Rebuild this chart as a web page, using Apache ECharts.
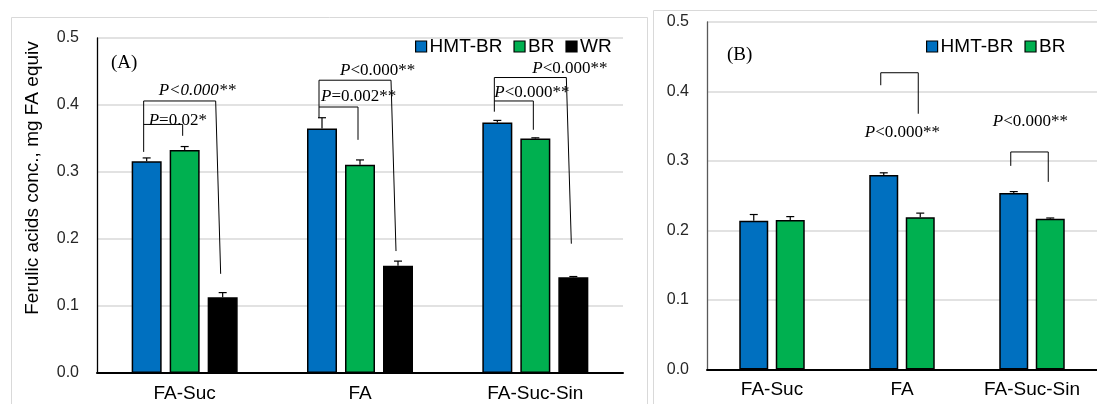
<!DOCTYPE html>
<html><head><meta charset="utf-8">
<script src="https://cdn.jsdelivr.net/npm/echarts@6/dist/echarts.min.js"></script>
<style>html,body{margin:0;padding:0;background:#fff}#c{width:1097px;height:404px}</style>
</head><body><div id="c"></div>
<script>
// ---------- data ----------
const categories = ['FA-Suc', 'FA', 'FA-Suc-Sin'];
const seriesNamesA = ['HMT-BR', 'BR', 'WR'];
const seriesNamesB = ['HMT-BR', 'BR'];
const hmtA = [0.316, 0.365, 0.374];
const hmtAErr = [0.005, 0.016, 0.003];
const brA = [0.333, 0.311, 0.350];
const brAErr = [0.005, 0.007, 0.001];
const wrA = [0.113, 0.160, 0.143];
const wrAErr = [0.007, 0.007, 0.001];
const hmtB = [0.214, 0.280, 0.254];
const hmtBErr = [0.009, 0.003, 0.002];
const brB = [0.215, 0.219, 0.217];
const brBErr = [0.005, 0.006, 0.001];
const yMin = 0, yMax = 0.5, yStep = 0.1;
// significance brackets: [category, fromSeries, toSeries, bracketLevel, leftLegEnd, rightLegEnd, label, labelLevel]
const sigA = [
  [0, 0, 2, 0.406, 0.330, 0.148, '{i|P<0.000**}', 0.422],
  [0, 0, 1, 0.371, 0.371, 0.354, '{i|P}{r|=0.02*}', 0.377],
  [1, 0, 2, 0.437, 0.381, 0.182, '{i|P}{r|<0.000**}', 0.452],
  [1, 0, 1, 0.397, 0.397, 0.348, '{i|P}{r|=0.002**}', 0.412],
  [2, 0, 2, 0.441, 0.390, 0.193, '{i|P}{r|<0.000**}', 0.454],
  [2, 0, 1, 0.406, 0.406, 0.363, '{i|P}{r|<0.000**}', 0.418]
];
const sigB = [
  [1, 0, 1, 0.427, 0.409, 0.368, '{i|P}{r|<0.000**}', 0.341],
  [2, 0, 1, 0.313, 0.293, 0.270, '{i|P}{r|<0.000**}', 0.357]
];
// label horizontal shift (px) relative to bracket left leg
const sigAShift = [15, 5, 21, 2, 38, 0];
const sigBShift = [-16, -18];

// ---------- styles ----------
const BLUE = '#0070C0', GREEN = '#00B050', BLACK = '#000000';
const colorsA = [BLUE, GREEN, BLACK];
const colorsB = [BLUE, GREEN];
const SANS = '"Liberation Sans", Arial, sans-serif';
const SERIF = '"Liberation Serif", "Times New Roman", serif';
const barWA = 30, gapA = 8, barWB = 29, gapB = 7.5;

function offsets(n, w, g) {
  const out = [];
  for (let i = 0; i < n; i++) out.push((i - (n - 1) / 2) * (w + g));
  return out;
}
const offA = offsets(3, barWA, gapA);
const offB = offsets(2, barWB, gapB);

function errRender(offset) {
  return function (params, api) {
    const c = api.value(0), v = api.value(1), e = api.value(2);
    const base = api.coord([c, v]);
    const top = api.coord([c, v + e]);
    const x = base[0] + offset;
    return {
      type: 'group', children: [
        { type: 'line', shape: { x1: x, y1: base[1], x2: x, y2: top[1] }, style: { stroke: '#000', lineWidth: 1.2 } },
        { type: 'line', shape: { x1: x - 4, y1: top[1], x2: x + 4, y2: top[1] }, style: { stroke: '#000', lineWidth: 1.2 } }
      ]
    };
  };
}

function sigRender(sig, offs, shift) {
  return function (params, api) {
    const s = sig[params.dataIndex];
    const cx = api.coord([s[0], 0])[0];
    const xl = cx + offs[s[1]] - 3;
    const far = (s[2] - s[1]) > 1;
    const xrTop = cx + offs[s[2]] - (far ? 7 : 2);
    const xrBot = cx + offs[s[2]] - 2;
    const yTop = api.coord([s[0], s[3]])[1];
    const yL = api.coord([s[0], s[4]])[1];
    const yR = api.coord([s[0], s[5]])[1];
    const yT = api.coord([s[0], s[7]])[1];
    return {
      type: 'group', children: [
        { type: 'polyline', shape: { points: [[xl, yL], [xl, yTop], [xrTop, yTop], [xrBot, yR]] },
          style: { stroke: '#000', lineWidth: 1, fill: null } },
        { type: 'text', x: xl + shift[params.dataIndex], y: yT,
          style: { text: s[6], align: 'left', verticalAlign: 'middle', fill: '#000',
            font: '17px ' + SERIF,
            rich: { i: { fontStyle: 'italic', fontSize: 17, fontFamily: SERIF, fill: '#000' },
                    r: { fontSize: 17, fontFamily: SERIF, fill: '#000' } } } }
      ]
    };
  };
}

const valAxis = (gi, lineColor) => ({
  type: 'value', gridIndex: gi, min: yMin, max: yMax, interval: yStep,
  axisLine: { show: true, lineStyle: { color: lineColor, width: 1.3 } },
  axisTick: { show: false },
  axisLabel: { fontSize: 16, fontFamily: SANS, color: '#262626', margin: 18,
    formatter: v => v.toFixed(1) },
  splitLine: { lineStyle: { color: '#d9d9d9', width: 1.5 } }
});
const catAxis = (gi) => ({
  type: 'category', gridIndex: gi, data: categories,
  axisLine: { lineStyle: { color: '#000', width: 2 } },
  axisTick: { show: false },
  axisLabel: { fontSize: 19, fontFamily: SANS, color: '#000', margin: 11 }
});

const series = [];
[hmtA, brA, wrA].forEach((d, i) => {
  series.push({ name: seriesNamesA[i], type: 'bar', xAxisIndex: 0, yAxisIndex: 0, data: d,
    barWidth: barWA, barGap: (gapA / barWA * 100) + '%',
    itemStyle: { color: colorsA[i], borderColor: '#000', borderWidth: 1.5 }, z: 2 });
});
[hmtAErr, brAErr, wrAErr].forEach((e, i) => {
  const vals = [hmtA, brA, wrA][i];
  series.push({ type: 'custom', xAxisIndex: 0, yAxisIndex: 0, renderItem: errRender(offA[i]),
    data: categories.map((c, k) => [k, vals[k], e[k]]), z: 3, silent: true });
});
[hmtB, brB].forEach((d, i) => {
  series.push({ name: seriesNamesB[i], type: 'bar', xAxisIndex: 1, yAxisIndex: 1, data: d,
    barWidth: barWB, barGap: (gapB / barWB * 100) + '%',
    itemStyle: { color: colorsB[i], borderColor: '#000', borderWidth: 1.5 }, z: 2 });
});
[hmtBErr, brBErr].forEach((e, i) => {
  const vals = [hmtB, brB][i];
  series.push({ type: 'custom', xAxisIndex: 1, yAxisIndex: 1, renderItem: errRender(offB[i]),
    data: categories.map((c, k) => [k, vals[k], e[k]]), z: 3, silent: true });
});
series.push({ type: 'custom', xAxisIndex: 0, yAxisIndex: 0, renderItem: sigRender(sigA, offA, sigAShift),
  data: sigA.map(s => [s[0], s[3]]), z: 4, silent: true, clip: false });
series.push({ type: 'custom', xAxisIndex: 1, yAxisIndex: 1, renderItem: sigRender(sigB, offB, sigBShift),
  data: sigB.map(s => [s[0], s[3]]), z: 4, silent: true, clip: false });

const legendBase = {
  icon: 'rect', itemWidth: 11, itemHeight: 11, itemGap: 11, top: 32,
  itemStyle: { borderColor: '#000', borderWidth: 1.2 },
  textStyle: { fontSize: 19, fontFamily: SANS, color: '#000', padding: [0, 0, 0, -2] }
};

const option = {
  animation: false,
  backgroundColor: '#fff',
  grid: [
    { left: 97, right: 474, top: 38, bottom: 31 },
    { left: 707, right: 0, top: 22, bottom: 34.5 }
  ],
  xAxis: [catAxis(0), catAxis(1)],
  yAxis: [valAxis(0, '#000'), valAxis(1, '#595959')],
  legend: [
    Object.assign({}, legendBase, { data: seriesNamesA, left: 410 }),
    Object.assign({}, legendBase, { data: seriesNamesB, left: 921 })
  ],
  graphic: [
    { type: 'rect', shape: { x: 11.5, y: 17.5, width: 636, height: 420 }, style: { stroke: '#d9d9d9', fill: null, lineWidth: 1 }, z: -10 },
    { type: 'rect', shape: { x: 653.5, y: 10.5, width: 470, height: 420 }, style: { stroke: '#d9d9d9', fill: null, lineWidth: 1 }, z: -10 },
    { type: 'text', x: 33, y: 178, rotation: Math.PI / 2,
      style: { text: 'Ferulic acids conc., mg FA equiv', font: '19px ' + SANS, fill: '#000', align: 'center', verticalAlign: 'middle' } },
    { type: 'text', x: 111, y: 63, style: { text: '(A)', font: '19px ' + SERIF, fill: '#000', verticalAlign: 'middle' } },
    { type: 'text', x: 727, y: 55, style: { text: '(B)', font: '19px ' + SERIF, fill: '#000', verticalAlign: 'middle' } }
  ],
  series: series
};
const chart = echarts.init(document.getElementById('c'), null, { renderer: 'canvas' });
chart.setOption(option);
</script>
</body></html>
